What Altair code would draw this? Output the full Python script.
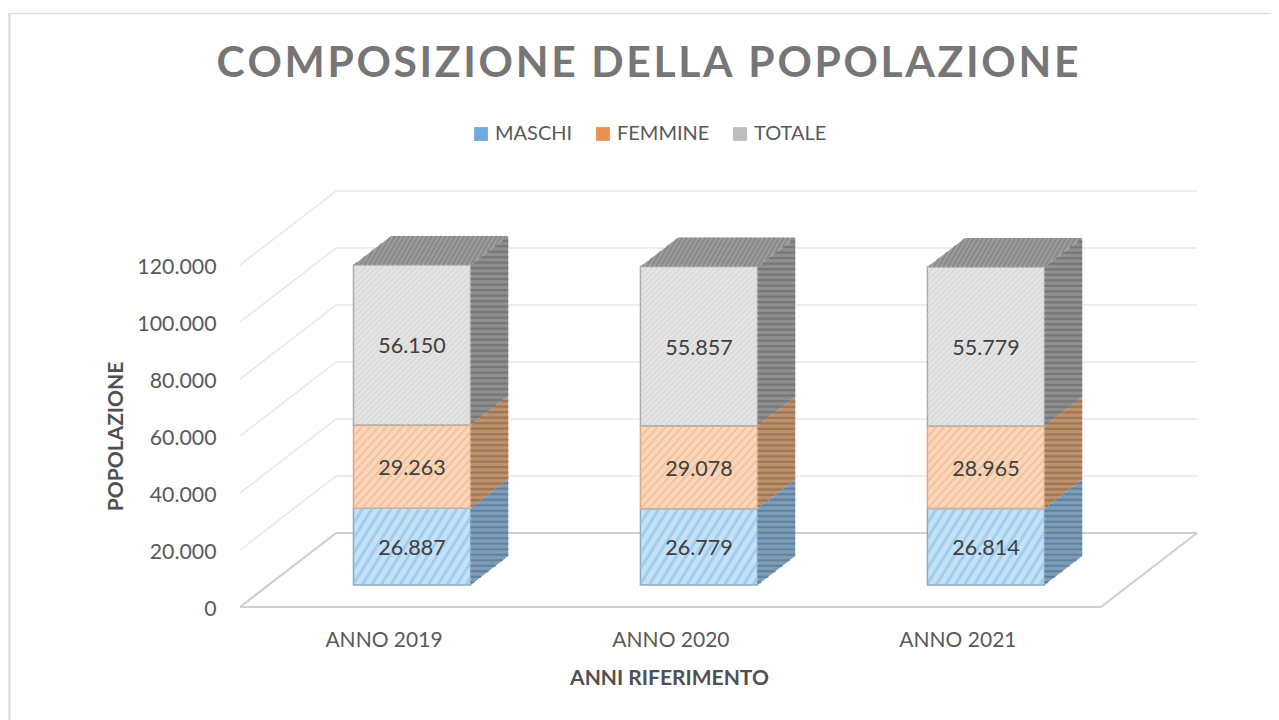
import math
import altair as alt
import pandas as pd

# ---------- values ----------
years = ["ANNO 2019", "ANNO 2020", "ANNO 2021"]
maschi = [26887, 26779, 26814]
femmine = [29263, 29078, 28965]
totale = [56150, 55857, 55779]
series_names = ["MASCHI", "FEMMINE", "TOTALE"]
y_ticks = [0, 20000, 40000, 60000, 80000, 100000, 120000]

# ---------- colours ----------
legend_cols = ["#6FA9DF", "#EE8F52", "#BDBDBD"]
face_cols = ["#C4E1F6", "#FAD6BB", "#E4E4E4"]
face_edge = ["#8AA9C2", "#D9A988", "#A9A9A9"]
side_cols = ["#7F9DB8", "#BE906C", "#8E8E8E"]
stripe_front = ["#8CC3EE", "#F3B58A", "#CFCFCF"]
stripe_side = ["#4F7390", "#8E6A4C", "#6C6C6C"]
top_col, top_stripe = "#9C9C9C", "#7C7C7C"

# ---------- layout of the oblique view ----------
W, H = 957, 416
PAD = dict(left=232, top=183, right=74, bottom=113)
DX = 96 / (860 / 3)               # depth shift, category units
DV = 74 / (342 / 120000)          # depth shift, value units
XMAX, YMAX = 3 + DX, 120000 + DV
PX, PY = W / XMAX, H / YMAX
BAR_W = 117 / (860 / 3)
D0, D1 = 22 / 74, 51 / 74
xs = alt.Scale(domain=[0, XMAX], nice=False, zero=False)
ys = alt.Scale(domain=[0, YMAX], nice=False, zero=False)


def hatch(poly, angle, step, col, w):
    """Stripes across a convex face given in data units."""
    pts = [(x * PX, y * PY) for x, y in poly]
    a = math.radians(angle)
    d = (math.cos(a), math.sin(a))
    n = (-d[1], d[0])
    prj = [p[0] * n[0] + p[1] * n[1] for p in pts]
    out = []
    c = min(prj) + step / 2
    while c < max(prj):
        hits = []
        for i, p in enumerate(pts):
            q = pts[(i + 1) % len(pts)]
            s0, s1 = prj[i] - c, prj[(i + 1) % len(pts)] - c
            if s0 * s1 < 0:
                t = s0 / (s0 - s1)
                hits.append((p[0] + t * (q[0] - p[0]), p[1] + t * (q[1] - p[1])))
        if len(hits) == 2:
            out.append(dict(x=hits[0][0] / PX, y=hits[0][1] / PY,
                            x2=hits[1][0] / PX, y2=hits[1][1] / PY, col=col, w=w))
        c += step
    return out


fronts, sides, tops, labels, stripes = [], [], [], [], []
for i, yr in enumerate(years):
    xl = i + 0.5 - BAR_W / 2 + D0 * DX
    xr = xl + BAR_W
    base = 0.0
    for k, (name, vals) in enumerate(zip(series_names, [maschi, femmine, totale])):
        v = vals[i]
        b, t = base + D0 * DV, base + v + D0 * DV
        fronts.append(dict(x=xl, x2=xr, y=b, y2=t, s=name,
                           face=face_cols[k], edge=face_edge[k]))
        dd, dh = (D1 - D0) * DX, (D1 - D0) * DV
        sides += [dict(x=xr, y=b, y2=t, face=f"{i}{k}", fill=side_cols[k]),
                  dict(x=xr + dd, y=b + dh, y2=t + dh, face=f"{i}{k}", fill=side_cols[k])]
        labels.append(dict(x=(xl + xr) / 2, y=(b + t) / 2,
                           t=f"{v:,}".replace(",", ".")))
        front_spec = [(58, 8.0, 3.0), (48, 6.0, 2.0), (45, 4.0, 1.2)][k]
        stripes += hatch([(xl, b), (xr, b), (xr, t), (xl, t)],
                         front_spec[0], front_spec[1], stripe_front[k], front_spec[2])
        stripes += hatch([(xr, b), (xr + dd, b + dh), (xr + dd, t + dh), (xr, t)],
                         0, 5.5, stripe_side[k], 2.2)
        base += v
    tops += [dict(y=base + D0 * DV, x=xl, x2=xr, face=str(i)),
             dict(y=base + D1 * DV, x=xl + (D1 - D0) * DX, x2=xr + (D1 - D0) * DX, face=str(i))]
    stripes += hatch([(xl, base + D0 * DV), (xr, base + D0 * DV),
                      (xr + (D1 - D0) * DX, base + D1 * DV),
                      (xl + (D1 - D0) * DX, base + D1 * DV)],
                     60, 4.0, top_stripe, 1.6)

# gridlines: back wall, left wall, floor
grid = []
for v in y_ticks:
    grid += [dict(x=0, y=v, x2=DX, y2=v + DV), dict(x=DX, y=v + DV, x2=XMAX, y2=v + DV)]
grid_df = pd.DataFrame(grid)
floor_df = pd.DataFrame([dict(x=0, y=0, x2=3, y2=0), dict(x=3, y=0, x2=XMAX, y2=DV),
                         dict(x=0, y=0, x2=DX, y2=DV), dict(x=DX, y=DV, x2=XMAX, y2=DV)])

x_axis = alt.Axis(
    values=[0.5, 1.5, 2.5], labelExpr="'ANNO ' + (2019 + floor(datum.value))",
    domain=False, ticks=False, grid=False, labelFont="Lato", labelFontSize=21,
    labelColor="#595959", labelPadding=22, labelFlush=False, title="ANNI RIFERIMENTO", titleFont="Lato",
    titleFontSize=21, titleFontWeight="bold", titleColor="#505050",
    titleX=429, titleY=77, titleBaseline="alphabetic")
y_axis = alt.Axis(
    values=y_ticks, labelExpr="replace(format(datum.value, ','), ',', '.')",
    domain=False, ticks=False, grid=False, labelFont="Lato", labelFontSize=21.3,
    labelColor="#595959", labelPadding=24, labelOffset=2, title="POPOLAZIONE", titleFont="Lato",
    titleFontSize=21, titleFontWeight="bold", titleColor="#505050",
    titleX=-118, titleY=245, titleAngle=270, titleAlign="center", titleBaseline="alphabetic")
X = alt.X("x:Q", scale=xs, axis=x_axis)
Y = alt.Y("y:Q", scale=ys, axis=y_axis)

grid_l = alt.Chart(grid_df).mark_rule(color="#E7E7E7", strokeWidth=1.5).encode(x=X, y=Y, x2="x2:Q", y2="y2:Q")
floor_l = alt.Chart(floor_df).mark_rule(color="#D0D0D0", strokeWidth=2.2).encode(x=X, y=Y, x2="x2:Q", y2="y2:Q")

side_l = alt.Chart(pd.DataFrame(sides)).mark_area(opacity=1).encode(
    x=X, y=Y, y2="y2:Q", detail="face:N", color=alt.Color("fill:N", scale=None))
top_l = alt.Chart(pd.DataFrame(tops)).mark_area(orient="horizontal", color=top_col).encode(
    y=Y, x=X, x2="x2:Q", detail="face:N")

front_df = pd.DataFrame(fronts)
legend_l = alt.Chart(front_df).mark_rect().encode(
    x=X, x2="x2:Q", y=Y, y2="y2:Q",
    color=alt.Color("s:N", scale=alt.Scale(domain=series_names, range=legend_cols),
                    sort=series_names,
                    legend=alt.Legend(title=None, orient="none", legendX=231, legendY=-67,
                                      direction="horizontal", symbolType="square", symbolSize=190,
                                      symbolStrokeWidth=0, labelFont="Lato", labelFontSize=20,
                                      labelColor="#595959", labelOffset=4, columnPadding=20)))
face_l = alt.Chart(front_df).mark_rect(strokeWidth=1.5).encode(
    x=X, x2="x2:Q", y=Y, y2="y2:Q",
    fill=alt.Fill("face:N", scale=None), stroke=alt.Stroke("edge:N", scale=None))
stripe_l = alt.Chart(pd.DataFrame(stripes)).mark_rule(opacity=0.65).encode(
    x=X, y=Y, x2="x2:Q", y2="y2:Q",
    color=alt.Color("col:N", scale=None), strokeWidth=alt.StrokeWidth("w:Q", scale=None))
label_l = alt.Chart(pd.DataFrame(labels)).mark_text(
    font="Lato", fontSize=21.5, color="#404040", baseline="middle", dy=2.5).encode(x=X, y=Y, text="t:N")

border_top = alt.Chart(pd.DataFrame({"a": [0]})).mark_rule(color="#DDDDDD", strokeWidth=1.5).encode(
    x=alt.value(-232), x2=alt.value(1031), y=alt.value(-177.5))
border_left = alt.Chart(pd.DataFrame({"a": [0]})).mark_rule(color="#DDDDDD", strokeWidth=2.5).encode(
    x=alt.value(-230.5), y=alt.value(-178), y2=alt.value(529))

title_text = "\u200a".join("COMPOSIZIONE DELLA POPOLAZIONE")

chart = alt.layer(
    border_top, border_left, grid_l, floor_l, side_l, top_l, legend_l, face_l, stripe_l, label_l
).resolve_scale(color="independent").properties(
    width=W, height=H,
    padding=PAD,
    autosize=alt.AutoSizeParams(type="none"),
    background="white",
    title=alt.TitleParams(text=title_text, font="Lato", fontSize=42.6, fontWeight="bold",
                          color="#767676", anchor="middle", dx=-71, offset=0, dy=108,
                          baseline="alphabetic"),
).configure_view(stroke=None)

chart.save("out.html", embed_options={"renderer": "svg", "actions": False})
